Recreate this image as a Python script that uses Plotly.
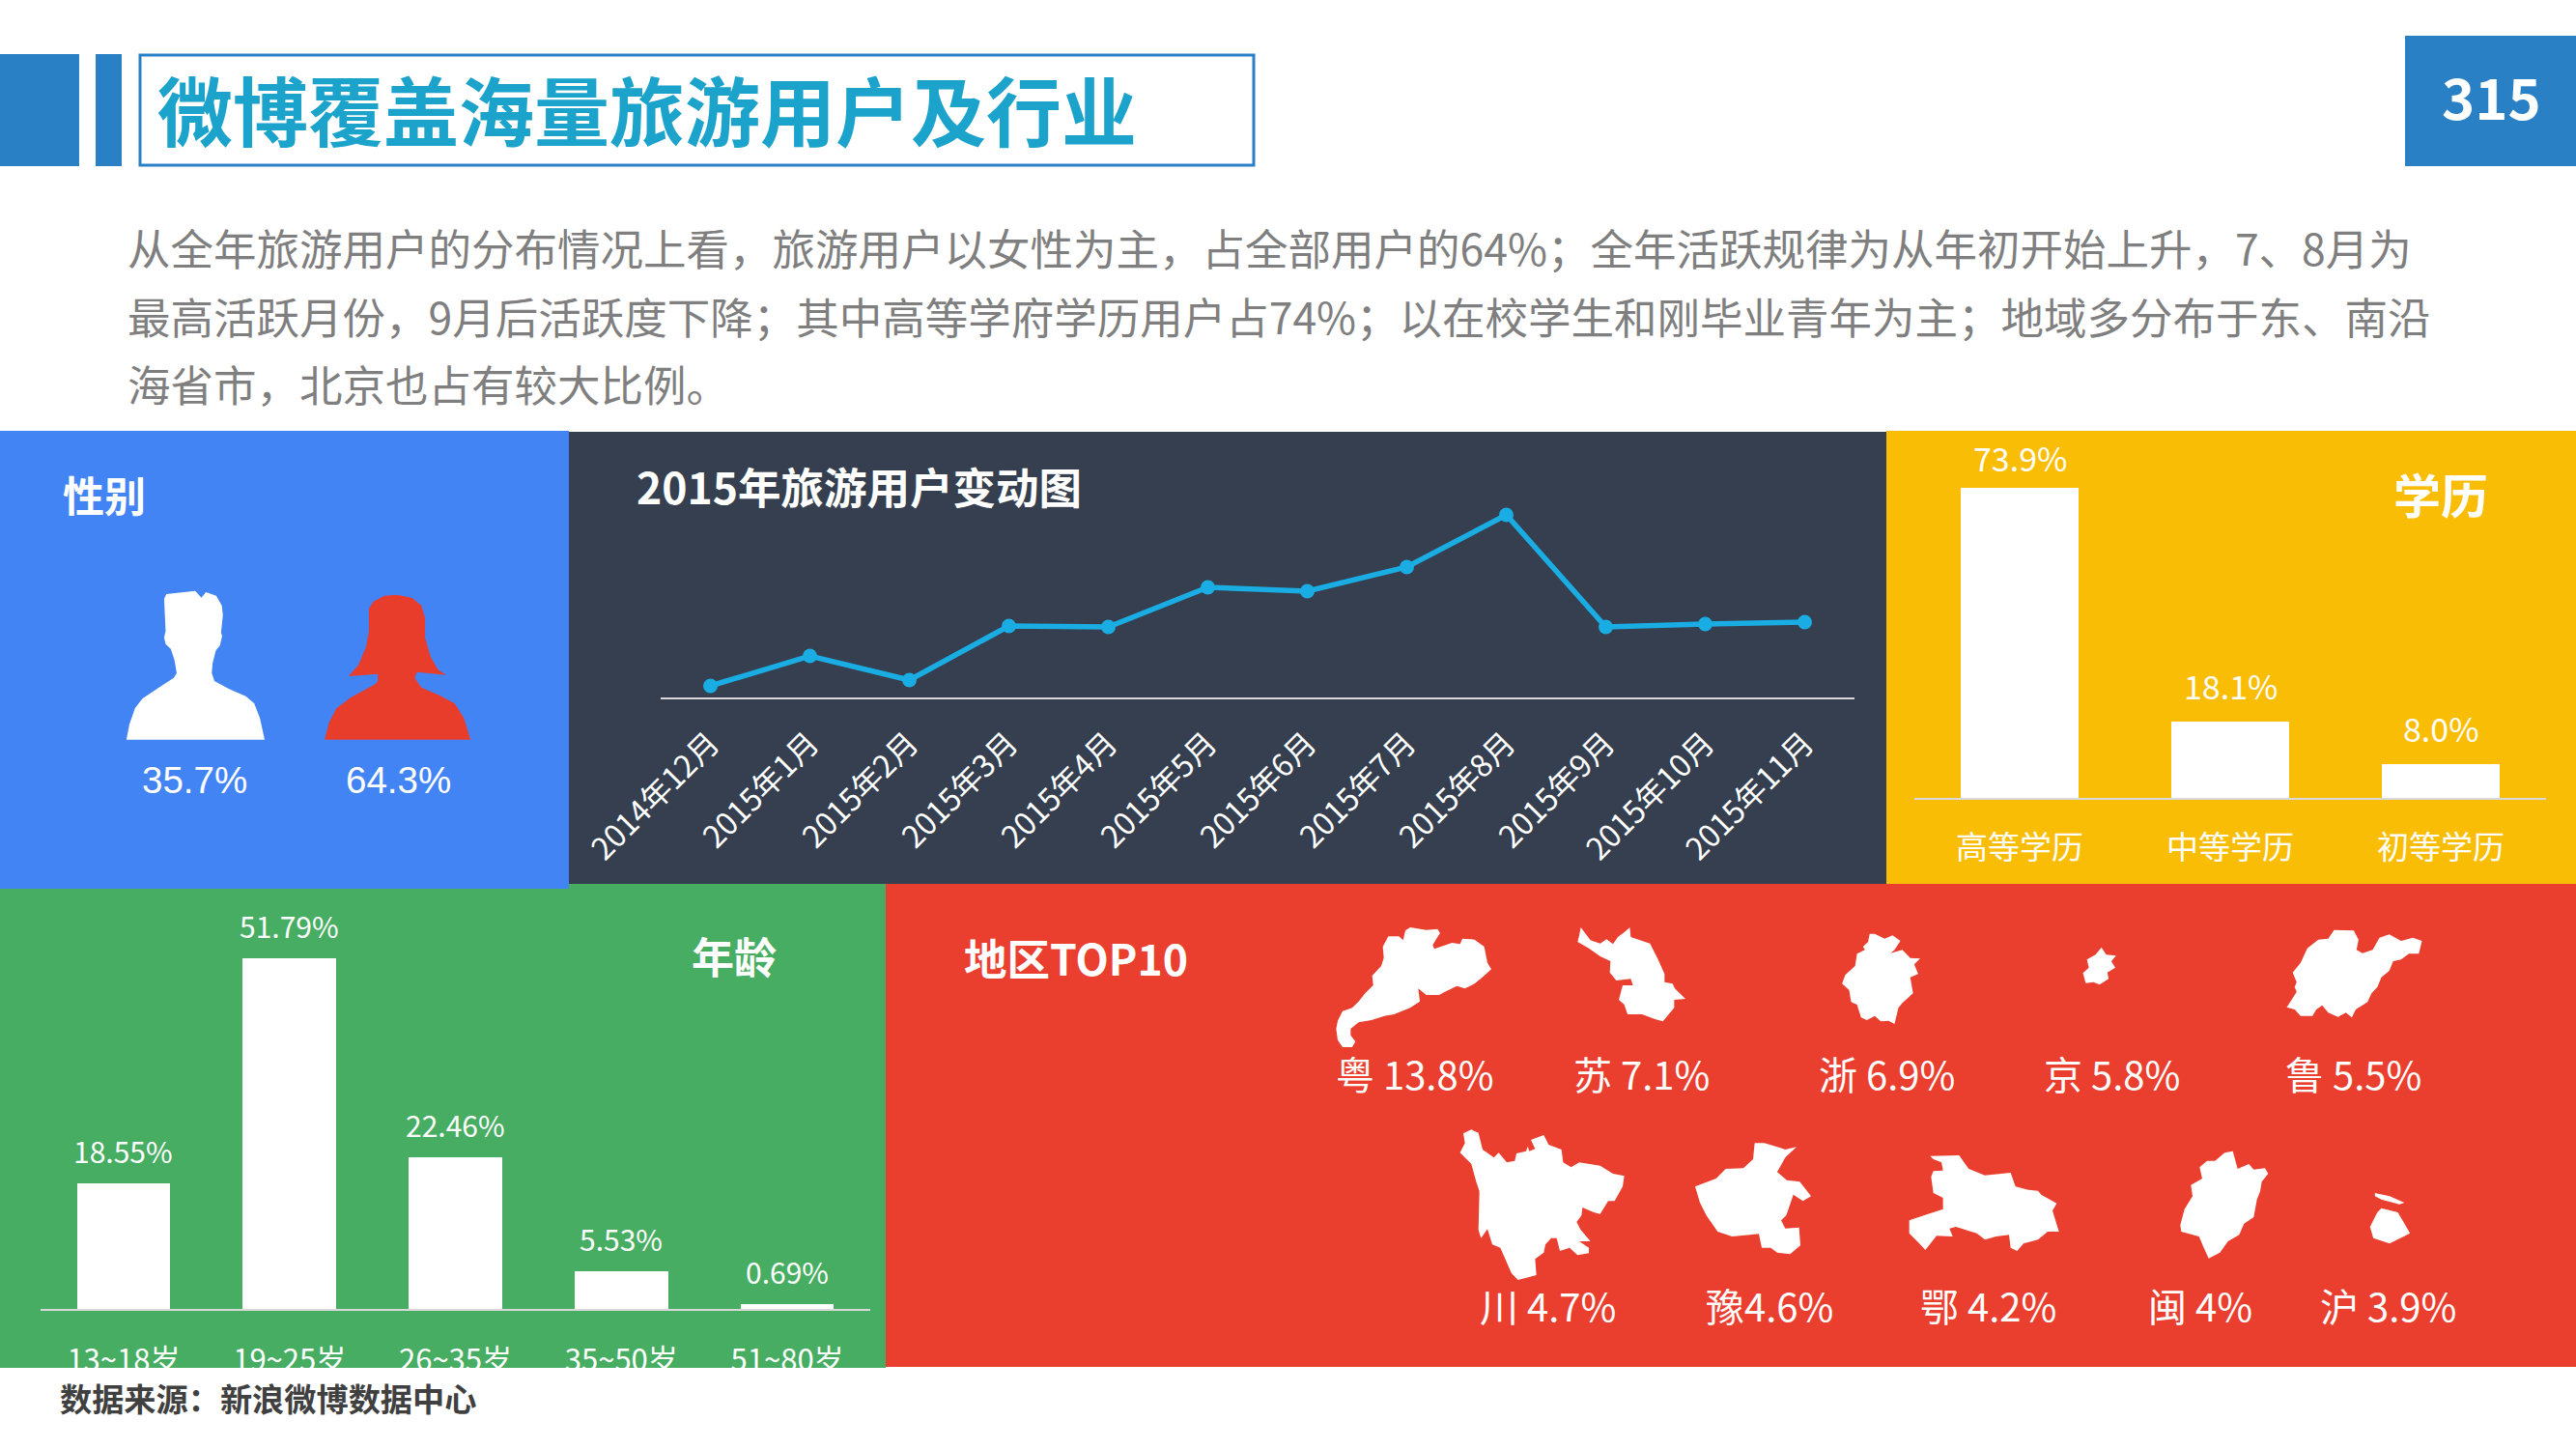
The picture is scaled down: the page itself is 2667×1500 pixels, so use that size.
import plotly.express as px
import plotly.graph_objects as go

W = 2667
H = 1500
FONT = 'Noto Sans CJK SC'

months = ['2014年12月', '2015年1月', '2015年2月', '2015年3月', '2015年4月', '2015年5月',
          '2015年6月', '2015年7月', '2015年8月', '2015年9月', '2015年10月', '2015年11月']
month_users = [12, 43, 18, 74, 73, 114, 110, 135, 189, 73, 76, 78]

education = ['高等学历', '中等学历', '初等学历']
education_share = [73.9, 18.1, 8.0]

ages = ['13~18岁', '19~25岁', '26~35岁', '35~50岁', '51~80岁']
age_share = [18.55, 51.79, 22.46, 5.53, 0.69]

gender_labels = ['35.7%', '64.3%']
region_row_1 = ['粤 13.8%', '苏 7.1%', '浙 6.9%', '京 5.8%', '鲁 5.5%']
region_row_2 = ['川 4.7%', '豫4.6%', '鄂 4.2%', '闽 4%', '沪 3.9%']

intro_lines = ['从全年旅游用户的分布情况上看，旅游用户以女性为主，占全部用户的64%；全年活跃规律为从年初开始上升，7、8月为',
               '最高活跃月份，9月后活跃度下降；其中高等学府学历用户占74%；以在校学生和刚毕业青年为主；地域多分布于东、南沿',
               '海省市，北京也占有较大比例。']

# Silhouettes (crop x, crop y)
man = [(342, 977), (350, 930), (365, 880), (385, 850), (430, 815), (470, 785), (478, 770), (472, 730), (462, 695),
       (448, 680), (444, 660), (448, 640), (444, 540), (450, 525), (528, 515), (545, 536), (557, 519), (585, 530),
       (600, 560), (603, 590), (598, 645), (601, 655), (595, 685), (584, 700), (575, 740), (573, 770), (580, 795),
       (620, 820), (665, 842), (688, 865), (703, 910), (716, 977)]
woman = [(878, 977), (890, 925), (910, 880), (950, 845), (1015, 805), (1022, 795), (1022, 773), (943, 780), (970, 745),
         (990, 690), (998, 640), (998, 570), (1010, 548), (1040, 530), (1075, 527), (1115, 537), (1140, 560),
         (1150, 600), (1150, 660), (1165, 720), (1185, 760), (1207, 776), (1128, 767), (1122, 785), (1140, 815),
         (1190, 840), (1230, 865), (1255, 910), (1273, 977)]
guangdong = [(15, 320), (30, 290), (60, 280), (80, 260), (100, 235), (125, 210), (122, 180), (150, 150), (158, 125),
             (155, 90), (172, 58), (205, 58), (218, 70), (225, 40), (240, 30), (290, 38), (325, 35), (333, 48),
             (325, 60), (310, 85), (315, 97), (370, 78), (395, 82), (402, 65), (440, 68), (470, 90), (480, 140),
             (492, 160), (470, 180), (440, 205), (410, 220), (385, 212), (345, 232), (330, 240), (290, 240),
             (265, 220), (270, 260), (240, 280), (190, 300), (160, 305), (120, 318), (80, 325), (55, 345), (55, 365),
             (70, 385), (60, 402), (30, 402), (15, 380), (10, 345)]
jiangsu = [(770, 30), (785, 50), (800, 70), (830, 80), (850, 67), (870, 82), (885, 60), (905, 45), (922, 30), (925, 60),
           (985, 80), (1010, 130), (1030, 175), (1030, 200), (1055, 205), (1062, 220), (1095, 252), (1060, 255),
           (1060, 280), (1025, 322), (1000, 315), (960, 300), (915, 300), (905, 270), (888, 255), (900, 210),
           (932, 210), (925, 190), (880, 195), (860, 170), (862, 135), (830, 120), (795, 95), (760, 75), (765, 55)]
zhejiang = [(112, 50), (125, 50), (150, 65), (170, 55), (190, 72), (175, 100), (165, 110), (195, 100), (215, 125),
            (240, 127), (225, 145), (235, 175), (215, 185), (222, 235), (195, 265), (185, 280), (175, 330), (160, 320),
            (140, 322), (125, 305), (105, 318), (90, 310), (80, 270), (65, 262), (60, 225), (42, 205), (50, 178),
            (75, 150), (80, 112), (100, 100), (95, 90), (108, 75)]
beijing = [(700, 92), (712, 115), (737, 118), (725, 135), (735, 155), (715, 170), (718, 190), (695, 208), (680, 200),
           (660, 203), (653, 172), (668, 155), (663, 130), (685, 115)]
shandong = [(1290, 38), (1340, 40), (1352, 68), (1347, 100), (1362, 110), (1388, 100), (1405, 62), (1430, 52),
            (1460, 72), (1490, 62), (1513, 72), (1505, 112), (1480, 112), (1460, 130), (1440, 135), (1430, 165),
            (1410, 185), (1400, 215), (1385, 235), (1375, 262), (1345, 285), (1335, 310), (1320, 295), (1300, 308),
            (1275, 295), (1260, 272), (1245, 285), (1235, 305), (1205, 305), (1190, 285), (1170, 278), (1185, 250),
            (1195, 230), (1190, 215), (1195, 200), (1185, 170), (1205, 140), (1222, 95), (1250, 68), (1275, 65)]
sichuan = [(45, 40), (70, 28), (92, 38), (105, 90), (140, 115), (155, 100), (180, 130), (205, 125), (210, 102),
           (240, 95), (245, 80), (250, 95), (268, 88), (255, 60), (295, 45), (310, 75), (350, 90), (355, 130),
           (380, 145), (405, 130), (470, 140), (510, 165), (545, 172), (540, 205), (515, 250), (495, 250), (470, 290),
           (450, 285), (415, 270), (412, 295), (397, 315), (410, 340), (440, 375), (405, 375), (435, 395), (435, 412),
           (400, 418), (375, 395), (345, 405), (335, 365), (318, 365), (300, 385), (295, 410), (268, 430), (272, 480),
           (215, 495), (195, 475), (160, 395), (135, 385), (120, 337), (100, 365), (92, 340), (95, 220), (85, 190),
           (70, 135), (35, 100), (50, 70)]
henan = [(950, 70), (980, 70), (1030, 85), (1045, 90), (1080, 82), (1045, 115), (1020, 160), (1050, 185), (1090, 190),
         (1125, 235), (1100, 250), (1070, 230), (1060, 260), (1048, 295), (1032, 310), (1045, 335), (1088, 332),
         (1092, 388), (1060, 415), (1020, 410), (1000, 395), (972, 395), (963, 352), (935, 355), (880, 360), (835, 345),
         (800, 295), (780, 255), (765, 205), (830, 180), (860, 150), (915, 148), (945, 120)]
hubei = [(115, 50), (205, 48), (235, 90), (285, 110), (365, 102), (380, 145), (420, 155), (450, 158), (460, 170),
         (508, 197), (495, 220), (515, 285), (480, 285), (450, 310), (405, 322), (385, 345), (365, 335), (360, 295),
         (320, 300), (285, 310), (260, 290), (195, 270), (175, 275), (185, 300), (135, 298), (100, 342), (80, 320),
         (50, 290), (50, 250), (95, 235), (155, 215), (155, 180), (125, 165), (118, 115), (125, 97), (155, 95),
         (150, 70), (125, 60)]
fujian = [(1030, 40), (1055, 35), (1070, 90), (1105, 75), (1120, 92), (1155, 88), (1165, 105), (1145, 130), (1140, 160),
          (1130, 185), (1120, 240), (1090, 260), (1075, 295), (1040, 315), (1015, 350), (980, 368), (965, 335),
          (950, 300), (895, 285), (892, 265), (905, 215), (930, 175), (925, 140), (960, 120), (952, 85), (975, 65),
          (1000, 65)]
chongming = [(1322, 915), (1340, 925), (1358, 945), (1352, 950), (1330, 935), (1322, 925)]
shanghai = [(1330, 962), (1350, 975), (1365, 1040), (1340, 1072), (1320, 1055), (1316, 1020), (1325, 975)]


def px_x(x):
    return x / W


def px_y(y):
    return 1 - y / H


def rect(x0, y0, x1, y1, color, layer='below', line=None):
    """
    Rectangle given in page pixels.
    """
    return dict(type='rect', xref='paper', yref='paper', x0=px_x(x0), x1=px_x(x1), y0=px_y(y0), y1=px_y(y1),
                fillcolor=color, layer=layer, line=dict(color=line or color, width=3 if line else 0))


def outline(points, x0, y0, sx, sy, color='white'):
    """
    Filled outline; points are crop coordinates, (x0, y0) and the scales map them to the page.
    """
    parts = [f"{px_x(x0 + x / sx):.5f} {px_y(y0 + y / sy):.5f}" for x, y in points]
    return dict(type='path', xref='paper', yref='paper', layer='above', fillcolor=color, line=dict(width=0),
                path='M ' + ' L '.join(parts) + ' Z')


def note(text, x, y, size, color='white', bold=False, anchor='center', font=FONT):
    return dict(text=f'<b>{text}</b>' if bold else text, x=px_x(x), y=px_y(y), xref='paper', yref='paper',
                xanchor=anchor, yanchor='middle', showarrow=False, font=dict(family=font, size=size, color=color))


def bar_notes(categories, values, decimals, size, xaxis, yaxis, shifts):
    """
    Share labels tied to the bar tops, so they sit further off than textposition='outside' would.
    """
    return [dict(text=f'{v:.{decimals}f}%', x=c, y=v, xref=xaxis, yref=yaxis, yshift=s, showarrow=False,
                 yanchor='middle', font=dict(family=FONT, size=size, color='white'))
            for c, v, s in zip(categories, values, shifts)]


def create_line_chart():
    """
    Monthly travel users.
    """
    fig = px.line(x=months, y=month_users, markers=True)
    fig.update_traces(line=dict(color='#1AADE3', width=5.5), marker=dict(size=15, color='#1AADE3'), cliponaxis=False)
    return fig.data[0]


def create_bar_chart(categories, values, xaxis, yaxis):
    """
    White bars.
    """
    fig = px.bar(x=categories, y=values)
    fig.update_traces(marker=dict(color='white', line=dict(width=0)), cliponaxis=False,
                      xaxis=xaxis, yaxis=yaxis, width=0.5625)
    return fig.data[0]


def x_axis(x0, x1, anchor, size, standoff, count, angle=0):
    return dict(domain=[px_x(x0), px_x(x1)], anchor=anchor, type='category', showgrid=False, zeroline=False,
                range=[-0.5, count - 0.5], showline=True, linecolor='#D9D9D9', linewidth=2, ticks='',
                ticklabelstandoff=standoff, tickangle=angle, automargin=False,
                tickfont=dict(family=FONT, size=size, color='white'))


def y_axis(y0, y1, anchor, top):
    return dict(domain=[px_y(y1), px_y(y0)], anchor=anchor, range=[0, top], visible=False, fixedrange=True,
                automargin=False)


fig = go.Figure([create_line_chart(),
                 create_bar_chart(education, education_share, 'x2', 'y2'),
                 create_bar_chart(ages, age_share, 'x3', 'y3')])

shapes = [
    rect(0, 56, 82, 172, '#2A80C5'),
    rect(99, 56, 126, 172, '#2A80C5'),
    rect(145, 57, 1298, 171, 'white', line='#2A80C5'),
    rect(2490, 37, 2667, 172, '#2A80C5'),
    rect(589, 447, 1953, 915, '#353F4F'),
    rect(1953, 446, 2667, 915, '#FABD06'),
    rect(0, 915, 917, 1417, '#47AD62'),
    rect(917, 915, 2667, 1415, '#EA3E2F'),
    rect(0, 446, 589, 920, '#4384F5'),
    rect(0, 1416, 917, 1500, 'white', layer='above'),  # the age labels are cut off by the white strip
    outline(man, 0, 440, 2.613, 3),
    outline(woman, 0, 440, 2.613, 3, color='#E93D2C'),
]
shapes += [outline(p, 1380, 950, 3, 3) for p in [guangdong, jiangsu]]
shapes += [outline(p, 1890, 950, 2.45, 3) for p in [zhejiang, beijing, shandong]]
shapes += [outline(p, 1500, 1160, 3, 3) for p in [sichuan, henan]]
shapes += [outline(p, 1960, 1180, 3, 3) for p in [hubei, fujian]]
shapes += [outline(p, 1340, 930, 1.1816, 3) for p in [chongming, shanghai]]

annotations = [
    note('微博覆盖海量旅游用户及行业', 161, 112, 78, color='#1BA3CB', bold=True, anchor='left'),
    note('315', 2579, 99, 58, bold=True),
    note('性别', 63, 511, 43, bold=True, anchor='left'),
    note('2015年旅游用户变动图', 657, 503, 44.5, bold=True, anchor='left'),
    note('学历', 2527, 510, 49, bold=True),
    note('年龄', 760, 989, 44, bold=True),
    note('地区TOP10', 996, 990, 44.5, bold=True, anchor='left'),
    note('数据来源：新浪微博数据中心', 60, 1446, 33.2, color='#404040', bold=True, anchor='left'),
]
for line, y in zip(intro_lines, [256, 326, 396]):
    annotations.append(note(line, 130, y, 44.5, color='#7F7F7F', anchor='left'))
for label, x in zip(gender_labels, [201, 412]):
    annotations.append(note(label, x, 808, 38.5, font='Liberation Sans'))
for label, x in zip(region_row_1, [1465, 1699, 1953, 2186, 2436]):
    annotations.append(note(label, x, 1111, 40))
for label, x in zip(region_row_2, [1602, 1832, 2058, 2278, 2472]):
    annotations.append(note(label, x, 1351, 40))
annotations += bar_notes(education, education_share, 1, 34, 'x2', 'y2', [31, 38, 38])
annotations += bar_notes(ages, age_share, 2, 30, 'x3', 'y3', [34, 34, 34, 34, 34])

fig.update_layout(
    width=W,
    height=H,
    margin=dict(l=0, r=0, t=0, b=0),
    paper_bgcolor='white',
    plot_bgcolor='rgba(0,0,0,0)',
    showlegend=False,
    bargap=0,
    shapes=shapes,
    annotations=annotations,
    xaxis=x_axis(684, 1920, 'y', 32, 14, 12, angle=-45),
    yaxis=y_axis(522, 722, 'x', 200),  # one unit is one pixel here, the picture prints no scale
    xaxis2=x_axis(1982, 2636, 'y2', 33, 21, 3),
    yaxis2=y_axis(446, 826, 'x2', 87.4),
    xaxis3=x_axis(42, 901, 'y3', 31, 25, 5),
    yaxis3=y_axis(920, 1355, 'x3', 62.1),
)

fig.write_html('out.html', config=dict(displayModeBar=False), post_script="document.body.style.margin='0'")
